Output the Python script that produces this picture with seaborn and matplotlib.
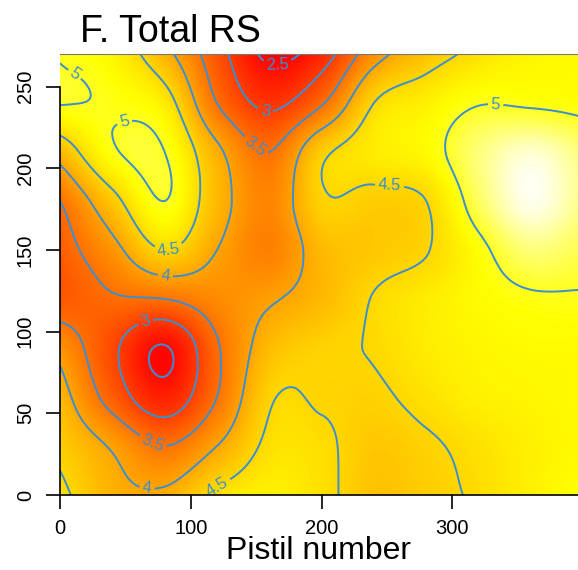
import numpy as np
import matplotlib
matplotlib.use("Agg")
import matplotlib.pyplot as plt
import seaborn as sns

sns.set_theme(style="ticks")
plt.rcParams["font.family"] = ["Liberation Sans", "DejaVu Sans"]
plt.rcParams["text.color"] = "black"
plt.rcParams["xtick.color"] = "black"
plt.rcParams["ytick.color"] = "black"

# Surface knots: total RS over pistil number (x) and vertical position (y)
pistil_knots = np.arange(0, 401, 40)
height_knots = np.arange(0, 271, 30)
total_rs = np.array([
    # x: 0    40    80    120   160   200   240   280   320   360   400
    [4.60, 4.15, 4.10, 4.60, 4.75, 4.60, 4.30, 4.40, 4.55, 4.75, 4.90],  # y=0
    [4.40, 3.95, 3.50, 4.00, 4.58, 4.56, 4.35, 4.45, 4.60, 4.75, 4.85],  # y=30
    [4.20, 3.30, 2.70, 3.50, 4.45, 4.47, 4.45, 4.60, 4.75, 4.80, 4.85],  # y=60
    [3.85, 3.10, 2.47, 3.45, 4.22, 4.45, 4.52, 4.70, 4.80, 4.85, 4.85],  # y=90
    [3.25, 3.45, 3.50, 3.75, 3.95, 4.20, 4.52, 4.70, 4.85, 4.95, 4.97],  # y=120
    [3.30, 3.85, 4.50, 4.00, 3.65, 4.20, 4.35, 4.48, 4.90, 5.30, 5.15],  # y=150
    [3.50, 4.35, 5.00, 4.20, 3.70, 4.45, 4.40, 4.50, 5.20, 5.70, 5.35],  # y=180
    [4.20, 4.95, 5.00, 4.10, 3.50, 4.40, 4.70, 4.85, 5.30, 5.60, 5.30],  # y=210
    [5.02, 4.95, 4.70, 3.50, 2.90, 3.45, 4.50, 4.75, 4.98, 4.95, 4.90],  # y=240
    [4.98, 4.80, 4.15, 3.20, 2.40, 2.75, 3.80, 4.30, 4.60, 4.80, 4.85],  # y=270
])

contour_levels = [2.5, 3, 3.5, 4, 4.5, 5]
x_ticks = [0, 100, 200, 300]
y_ticks = [0, 50, 100, 150, 200, 250]
label_spots = [(166, 265), (157, 235), (67, 102), (149, 213), (69, 29),
               (80, 130), (67, 8), (83, 151), (252, 189), (117, 10),
               (48, 233), (8, 254), (333, 238)]


def cubic_weights(knots, fine):
    """Catmull-Rom weights mapping knot values onto a fine axis."""
    n = len(knots)
    h = knots[1] - knots[0]
    u = (fine - knots[0]) / h
    i = np.clip(np.floor(u).astype(int), 0, n - 2)
    t = u - i
    w = [(-t**3 + 2 * t**2 - t) / 2,
         (3 * t**3 - 5 * t**2 + 2) / 2,
         (-3 * t**3 + 4 * t**2 + t) / 2,
         (t**3 - t**2) / 2]
    W = np.zeros((len(fine), n + 2))
    rows = np.arange(len(fine))
    for k in range(4):
        np.add.at(W, (rows, i + k), w[k])
    ghost = np.zeros((n + 2, n))
    ghost[1:n + 1] = np.eye(n)
    ghost[0, 0], ghost[0, 1] = 2, -1
    ghost[n + 1, n - 1], ghost[n + 1, n - 2] = 2, -1
    return W @ ghost


xf = np.linspace(0, 400, 401)
yf = np.linspace(0, 270, 271)
surface = cubic_weights(height_knots, yf) @ total_rs @ cubic_weights(pistil_knots, xf).T

heat = sns.blend_palette(["#FF0000", "#FF5500", "#FFAA00", "#FFFF00", "#FFFFF2"], as_cmap=True)

fig = plt.figure(figsize=(5.78, 5.70), dpi=100)
ax = fig.add_axes([60 / 578, 75 / 570, 518 / 578, 441 / 570])
ax.imshow(surface, origin="lower", extent=[0, 400, 0, 270], cmap=heat,
          vmin=surface.min(), vmax=surface.max(), aspect="auto", interpolation="bilinear")
cs = ax.contour(xf, yf, surface, levels=contour_levels, colors="#3B8ED0", linewidths=1.4)
ax.clabel(cs, fmt="%g", fontsize=12, inline=True, inline_spacing=3, manual=label_spots)

ax.set_xlim(0, 396)
ax.set_ylim(0, 270)
ax.set_xticks(x_ticks)
ax.set_yticks(y_ticks)
ax.tick_params(axis="both", length=10, width=1.2, labelsize=14.5, color="black",
               labelcolor="black")
ax.tick_params(axis="x", pad=7)
ax.tick_params(axis="y", pad=8)
for lab in ax.get_yticklabels():
    lab.set_rotation(90)
    lab.set_va("center")

ax.spines["right"].set_visible(False)
ax.spines["top"].set_color("#777777")
ax.spines["top"].set_linewidth(0.8)
ax.spines["left"].set_bounds(0, 250)
for side in ["left", "bottom"]:
    ax.spines[side].set_linewidth(1.2)
    ax.spines[side].set_color("black")

fig.text(80 / 578, 1 - 42 / 570, "F. Total RS", fontsize=27, ha="left", va="baseline")
fig.text(318.5 / 578, 1 - 559 / 570, "Pistil number", fontsize=23, ha="center", va="baseline")

fig.savefig("out.png", dpi=100)
